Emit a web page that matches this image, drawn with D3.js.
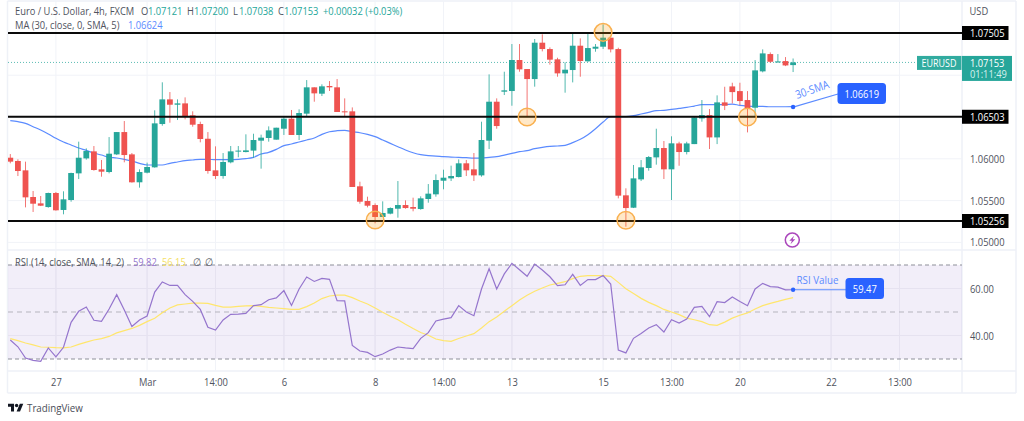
<!DOCTYPE html>
<html><head><meta charset="utf-8">
<script src="https://cdnjs.cloudflare.com/ajax/libs/d3/7.8.5/d3.min.js"></script>
<style>
html,body{margin:0;padding:0;background:#fff}
svg{display:block}
text{font-family:"Open Sans","Noto Sans",sans-serif}
</style></head><body>
<svg id="c" width="1024" height="421"></svg>
<script>
const opens=[1.06013,1.05974,1.05862,1.05543,1.05467,1.05423,1.05591,1.05388,1.05507,1.05826,
1.06005,1.06089,1.05874,1.05842,1.06053,1.0632,1.06053,1.05719,1.05834,1.05898,
1.06416,1.06711,1.06647,1.06663,1.0652,1.06416,1.0624,1.05862,1.05794,1.05958,
1.06086,1.06081,1.06098,1.06217,1.06249,1.06229,1.0636,1.0648,1.06285,1.0654,
1.06855,1.06779,1.06871,1.06855,1.06568,1.06568,1.05671,1.05495,1.05447,1.05304,
1.05344,1.05403,1.05447,1.05423,1.05399,1.05519,1.05575,1.05738,1.05766,1.05782,
1.05946,1.05874,1.05802,1.06217,1.06683,1.06803,1.06811,1.07182,1.07074,1.06954,
1.07389,1.07313,1.0719,1.07022,1.07062,1.07353,1.07166,1.07317,1.07341,1.07449,
1.07313,1.05563,1.05415,1.05754,1.0589,1.06017,1.06129,1.05874,1.06184,1.06081,
1.06176,1.06483,1.06523,1.06256,1.06675,1.06866,1.0681,1.06703,1.06611,1.07046,
1.07253,1.07157,1.07169,1.07121];
const closes=[1.05966,1.05854,1.05539,1.05463,1.05439,1.05591,1.05384,1.05515,1.0583,1.06013,
1.06093,1.05866,1.05846,1.06061,1.0632,1.06045,1.05719,1.05842,1.05902,1.06424,
1.06711,1.06647,1.06663,1.06512,1.06408,1.06237,1.05854,1.05794,1.05962,1.06089,
1.06098,1.06101,1.06225,1.06253,1.0634,1.06372,1.0648,1.06285,1.06548,1.06855,
1.06783,1.06867,1.06855,1.0656,1.0656,1.05663,1.05487,1.05439,1.05304,1.05352,
1.05411,1.05447,1.05411,1.05403,1.05527,1.05583,1.05746,1.05774,1.05794,1.05946,
1.05862,1.05802,1.06225,1.06683,1.06392,1.06819,1.07182,1.0707,1.06954,1.07389,
1.07313,1.07186,1.07022,1.07066,1.07353,1.0717,1.07325,1.07341,1.07449,1.07309,
1.05559,1.05411,1.05766,1.05898,1.06021,1.06129,1.05874,1.06185,1.06081,1.06184,
1.06495,1.06523,1.06256,1.06675,1.06635,1.06798,1.06691,1.06607,1.07058,1.07261,
1.07161,1.07165,1.07117,1.07153];
const highs=[1.06057,1.05994,1.05966,1.05615,1.05555,1.05595,1.05603,1.05611,1.05834,1.06205,
1.06125,1.06153,1.05986,1.0626,1.0632,1.06452,1.06069,1.05874,1.05954,1.0658,
1.06915,1.06799,1.06711,1.06735,1.06568,1.06444,1.0632,1.06149,1.06069,1.06153,
1.06153,1.06293,1.063,1.06289,1.06388,1.06372,1.06504,1.06584,1.06592,1.06942,
1.06855,1.06891,1.0693,1.06954,1.06723,1.06615,1.05726,1.05547,1.05467,1.05491,
1.05419,1.05734,1.05503,1.05535,1.05551,1.05698,1.05814,1.0587,1.05918,1.05993,
1.05986,1.06069,1.06444,1.0701,1.06723,1.07042,1.07373,1.07373,1.07074,1.07433,
1.07489,1.07333,1.07209,1.07154,1.07493,1.07441,1.07501,1.07373,1.07608,1.07453,
1.07329,1.05647,1.05926,1.05985,1.06033,1.0636,1.06213,1.06269,1.06204,1.06204,
1.06503,1.06703,1.06595,1.06759,1.06862,1.0691,1.0691,1.0681,1.07181,1.07309,
1.07273,1.07253,1.07217,1.072];
const lows=[1.05946,1.05794,1.05419,1.05364,1.05435,1.05415,1.0538,1.05336,1.05487,1.05758,
1.0599,1.05858,1.05786,1.05826,1.06045,1.05958,1.05715,1.05655,1.05826,1.05894,
1.06396,1.06432,1.06464,1.06472,1.06384,1.06197,1.05822,1.05758,1.05762,1.05946,
1.06018,1.06077,1.06013,1.05882,1.06205,1.06229,1.06285,1.06285,1.06225,1.06504,
1.06683,1.06751,1.06811,1.0656,1.06504,1.05663,1.05463,1.05419,1.05228,1.05304,
1.05336,1.05296,1.05403,1.05372,1.05391,1.05475,1.05547,1.05635,1.05734,1.05778,
1.05794,1.05734,1.05786,1.06117,1.0636,1.06763,1.06635,1.07042,1.06504,1.06863,
1.07285,1.07126,1.06982,1.06791,1.06914,1.06982,1.07162,1.07281,1.07313,1.07273,
1.05527,1.05188,1.05411,1.05734,1.05858,1.0593,1.05758,1.05507,1.05917,1.06053,
1.06176,1.06444,1.06117,1.06176,1.06583,1.06663,1.06643,1.06316,1.06495,1.07034,
1.07149,1.07153,1.07109,1.07038];
const maValues=[1.06456,1.06444,1.06424,1.06384,1.06344,1.06297,1.06245,1.06201,1.06165,1.06129,
1.06101,1.06069,1.06045,1.06018,1.0601,1.05994,1.05974,1.05946,1.05926,1.05926,
1.05926,1.05946,1.05962,1.05978,1.05986,1.05994,1.05994,1.0599,1.0599,1.0599,
1.05994,1.06002,1.06018,1.06057,1.06077,1.06113,1.06157,1.06177,1.06201,1.06225,
1.06249,1.06292,1.06324,1.06336,1.0634,1.06324,1.06312,1.06292,1.06265,1.06225,
1.06185,1.06145,1.06105,1.06073,1.06049,1.06037,1.06033,1.06025,1.06021,1.06017,
1.06013,1.06009,1.06009,1.06017,1.06025,1.06045,1.06065,1.06085,1.06097,1.06121,
1.06137,1.06149,1.06153,1.06161,1.06193,1.06233,1.06288,1.0636,1.0644,1.06504,
1.06504,1.06504,1.06516,1.06536,1.06556,1.06576,1.0658,1.06591,1.06603,1.06615,
1.06631,1.06647,1.06647,1.06647,1.06647,1.06655,1.06639,1.06631,1.06627,1.06627,
1.06623,1.06623,1.06623,1.06624];
const rsiValues=[38.1,35.2,30.4,29.4,29,34.7,30.9,35,45.6,50.3,52.1,46.5,46,51.3,57.4,50.9,43.8,46.6,48.3,58.5,
62.8,61.3,61.3,57.4,54.5,51.1,43.5,42.3,46.6,49,49.1,49.4,52.7,53.1,55.2,56,59.1,52.8,59.8,64.9,
63,64.3,63.9,54.8,54.7,35.8,33.4,32.8,31,32.1,33.8,35.1,34.7,34.4,38.8,41.2,46.2,47,47.6,52.7,
50,48.4,59.8,68.4,59.8,66.2,70.7,68,65.2,70.4,67.9,65,61.2,61.6,66,61.3,63.8,63.8,65.5,61.9,
33.8,32.6,38.8,40.9,43.2,44.6,41.5,46.7,45.3,47,52,52.4,48,54.4,54,56.4,54.5,52.7,59.8,62.2,
60.8,60.6,59.4,59.47];
const rsiSma=[38.7,37.8,36.8,36,35.1,35,34.8,34.7,35.1,36.2,37.2,38.1,38.7,39.6,41.1,42.1,43,44.3,45.9,47.3,
49.7,51.7,53,53.4,53.8,53.8,53.7,52.8,52.1,52.1,52.4,52.6,52.7,52.4,52,51.7,51.4,51.1,51.1,52.3,
53.8,55.7,56.8,57.2,57.2,56.1,54.7,53.4,51.7,49.9,48.2,46.7,44.8,43,41.3,40.1,38.5,37.8,37.5,38.7,
39.8,40.8,43.2,45.9,47.9,50.3,52.7,55.1,57.1,58.8,60.2,61.5,62.2,62.9,64.2,65.2,65.5,65.5,65.5,65.2,
62.6,59.9,57.9,55.8,54.1,52.7,51.1,50,48.9,47.4,46.7,45.9,44.6,44.3,45.7,47.4,48.6,49.6,51.3,52.7,
53.7,54.5,55.4,56.15];
const levels=[1.07505,1.06503,1.05256];
const priceTicks=[1.07,1.065,1.06,1.055,1.05];
const priceLabels=[1.06,1.055,1.05];
const timeIdx=[6,18,27,36,48,57,66,78,87,96,108,117];
const timeLabels=["27","Mar","14:00","6","8","14:00","13","15","13:00","20","22","13:00"];
const rsiGuide=[70,50,30];
const rsiGrid=[60,40];
const circleIdx=[48,68,78,81,97];
const circlePrice=[1.05268,1.065,1.07513,1.05265,1.065];

const W=1024,H=421,L=8,R=962,AX=1016,TOP=1,MB=250,RB=371,TB=393;
const UP="#26a69a",DN="#ef5350",BLUE="#2962ff",NARROW=0.85;
const svg=d3.select("#c");
const x=d3.scaleLinear().domain([0,103]).range([10.3,793.1]);
const y=d3.scaleLinear().domain([1.05256,1.07505]).range([221,33]);
const yr=d3.scaleLinear().domain([30,70]).range([359,265]);
const idx=d3.range(opens.length);
const fmt=d3.format(".5f");

svg.append("defs").append("clipPath").attr("id","mp").append("rect").attr("x",L).attr("y",TOP).attr("width",R-L).attr("height",MB-TOP);

// frame + separators
const frame=[[7.5,TOP,7.5,TB],[R,TOP,R,TB],[AX,TOP,AX,TB],[7.5,MB,AX,MB],[7.5,RB,AX,RB],[7.5,TB,AX,TB],[7.5,TOP,AX,TOP]];
svg.append("g").selectAll("line").data(frame).join("line")
 .attr("x1",d=>d[0]).attr("y1",d=>d[1]).attr("x2",d=>d[2]).attr("y2",d=>d[3])
 .attr("stroke","#eef1f7").attr("stroke-width",1.5);

// grid
const grid=svg.append("g").attr("stroke","#f1f3f8").attr("stroke-width",1);
grid.selectAll(".v").data(timeIdx).join("line").attr("class","v")
 .attr("x1",d=>x(d)).attr("x2",d=>x(d)).attr("y1",TOP).attr("y2",RB);
grid.selectAll(".h").data(priceTicks).join("line").attr("class","h")
 .attr("x1",L).attr("x2",R).attr("y1",d=>y(d)).attr("y2",d=>y(d));

// RSI band
svg.append("rect").attr("x",L).attr("width",R-L).attr("y",yr(70)).attr("height",yr(30)-yr(70)).attr("fill","#7e57c2").attr("fill-opacity",0.1);
svg.append("g").selectAll("line").data(rsiGrid).join("line")
 .attr("x1",L).attr("x2",R).attr("y1",d=>yr(d)).attr("y2",d=>yr(d)).attr("stroke","#e6e2f0");
svg.append("g").selectAll("line").data(timeIdx).join("line")
 .attr("x1",d=>x(d)).attr("x2",d=>x(d)).attr("y1",yr(70)).attr("y2",yr(30)).attr("stroke","#e6e2f0");
svg.append("g").selectAll("line").data(rsiGuide).join("line")
 .attr("x1",L).attr("x2",R).attr("y1",d=>yr(d)).attr("y2",d=>yr(d))
 .attr("stroke",d=>d===50?"#b5b4bd":"#8d8f99").attr("stroke-width",d=>d===50?1:1.2).attr("stroke-dasharray",d=>d===50?"5 4":"4 3");

// last price dotted
svg.append("line").attr("x1",L).attr("x2",917).attr("y1",y(closes[103])).attr("y2",y(closes[103]))
 .attr("stroke",UP).attr("stroke-width",1).attr("stroke-opacity",.75).attr("stroke-dasharray","1 2");

const main=svg.append("g").attr("clip-path","url(#mp)");
// MA
const maLine=d3.line().x((d,i)=>x(i)).y(d=>y(d)).curve(d3.curveMonotoneX);
main.append("path").attr("d",maLine(maValues)).attr("fill","none").attr("stroke","#5b8bff").attr("stroke-width",1.2);

// candles
const col=i=>closes[i]>=opens[i]?UP:DN;
main.append("g").selectAll("line").data(idx).join("line")
 .attr("x1",i=>x(i)).attr("x2",i=>x(i)).attr("y1",i=>y(highs[i])).attr("y2",i=>y(lows[i]))
 .attr("stroke",col).attr("stroke-width",1).attr("stroke-opacity",.8);
main.append("g").selectAll("rect").data(idx).join("rect")
 .attr("x",i=>x(i)-2.9).attr("width",5.8)
 .attr("y",i=>y(Math.max(opens[i],closes[i])))
 .attr("height",i=>Math.max(1,Math.abs(y(opens[i])-y(closes[i]))))
 .attr("fill",col);

// levels
main.append("g").selectAll("line").data(levels).join("line")
 .attr("x1",L).attr("x2",R).attr("y1",d=>y(d)).attr("y2",d=>y(d)).attr("stroke","#0a0a0a").attr("stroke-width",2);

// circles
svg.append("g").selectAll("circle").data(circleIdx).join("circle")
 .attr("cx",d=>x(d)).attr("cy",(d,i)=>y(circlePrice[i])).attr("r",8.8)
 .attr("fill","#ff9800").attr("fill-opacity",0.22).attr("stroke","#f9b04f").attr("stroke-width",1.5);

// SMA annotation
const maEnd=[x(103),y(1.06619)];
svg.append("line").attr("x1",maEnd[0]).attr("y1",maEnd[1]).attr("x2",838).attr("y2",94).attr("stroke","#5b8bff").attr("stroke-width",1.2);
svg.append("circle").attr("cx",maEnd[0]).attr("cy",maEnd[1]).attr("r",2.2).attr("fill",BLUE);
svg.append("text").attr("transform","translate(797,99) rotate(-19)").attr("fill","#5b8bff").attr("font-size",11.5).text("30-SMA");
svg.append("rect").attr("x",837.5).attr("y",83).attr("width",48.5).attr("height",21).attr("rx",3.5).attr("fill",BLUE);
svg.append("text").attr("x",861.8).attr("y",97.6).attr("text-anchor","middle").attr("fill","#fff").attr("font-size",11).text("1.06619");

// RSI lines
const rl=d3.line().x((d,i)=>x(i)).y(d=>yr(d));
svg.append("path").attr("d",rl(rsiSma)).attr("fill","none").attr("stroke","#ffe66d").attr("stroke-width",1.2);
svg.append("path").attr("d",rl(rsiValues)).attr("fill","none").attr("stroke","#9575cd").attr("stroke-width",1.2);
svg.append("line").attr("x1",x(103)).attr("x2",846).attr("y1",yr(59.47)).attr("y2",yr(59.47)).attr("stroke","#5b8bff").attr("stroke-width",1.2);
svg.append("circle").attr("cx",x(103)).attr("cy",yr(59.47)).attr("r",2.2).attr("fill",BLUE);
svg.append("text").attr("x",796.5).attr("y",284).attr("fill","#5b8bff").attr("font-size",11.5).text("RSI Value");
svg.append("rect").attr("x",845.5).attr("y",278).attr("width",38.5).attr("height",21).attr("rx",3.5).attr("fill",BLUE);
svg.append("text").attr("x",864.8).attr("y",292.6).attr("text-anchor","middle").attr("fill","#fff").attr("font-size",11).text("59.47");

// price axis
const pa=d3.axisRight(y).tickValues(priceLabels).tickFormat(fmt).tickSize(0).tickPadding(8);
const pg=svg.append("g").attr("transform",`translate(${R},0)`).call(pa);
pg.select(".domain").remove();
pg.selectAll("text").attr("fill","#50535e").attr("font-size",11).style("font-family",'"Open Sans",sans-serif');
const ra=d3.axisRight(yr).tickValues(rsiGrid).tickFormat(d3.format(".2f")).tickSize(0).tickPadding(8);
const rg=svg.append("g").attr("transform",`translate(${R},0)`).call(ra);
rg.select(".domain").remove();
rg.selectAll("text").attr("fill","#50535e").attr("font-size",11).style("font-family",'"Open Sans",sans-serif');
svg.append("text").attr("x",969.5).attr("y",15).attr("fill","#50535e").attr("font-size",11).text("USD");

// level labels
const lg=svg.append("g").selectAll("g").data(levels).join("g").attr("transform",d=>`translate(${R},${y(d)})`);
lg.append("rect").attr("x",0).attr("y",-7).attr("width",46.5).attr("height",14).attr("fill","#000");
lg.append("text").attr("x",8).attr("y",4).attr("fill","#fff").attr("font-size",11).text(d=>fmt(d));

// last price tag
svg.append("rect").attr("x",917).attr("y",y(closes[103])-6.5).attr("width",44.5).attr("height",14).attr("fill",UP).attr("fill-opacity",.95);
svg.append("text").attr("x",939).attr("y",y(closes[103])+4.5).attr("text-anchor","middle").attr("fill","#fff").attr("font-size",10.5).text("EURUSD");
svg.append("rect").attr("x",R).attr("y",y(closes[103])-6.5).attr("width",50).attr("height",25).attr("fill",UP);

// time axis
const ta=d3.axisBottom(x).tickValues(timeIdx).tickFormat((d,i)=>timeLabels[i]).tickSize(0).tickPadding(7);
const tg=svg.append("g").attr("transform",`translate(0,${RB})`).call(ta);
tg.select(".domain").remove();
tg.selectAll("text").attr("fill","#50535e").attr("font-size",11).style("font-family",'"Open Sans",sans-serif');

// narrow labels drawn so far to the reference's text width
svg.selectAll("text").each(function(){
  const w=this.getComputedTextLength();
  this.setAttribute("textLength",(w*NARROW).toFixed(1));
  this.setAttribute("lengthAdjust","spacingAndGlyphs");
});

// last price + countdown: one text in two lines
const lp=svg.append("text").attr("transform",`scale(${NARROW},1)`).attr("y",y(closes[103])+4.5).attr("font-size",11);
lp.append("tspan").attr("x",(R+8)/NARROW).attr("fill","#fff").text(fmt(closes[103]));
lp.append("tspan").attr("x",(R+8)/NARROW).attr("dy",11.5).attr("fill","#d6f1ee").text("01:11:49");

// legend rows: one text each, coloured runs as tspans
function row(yy,items){
  const t=svg.append("text").attr("transform",`scale(${NARROW},1)`).attr("y",yy).attr("font-size",11);
  items.forEach(([s,xx,c])=>t.append("tspan").attr("x",xx/NARROW).attr("fill",c).text(s));
}
const G="#50535e";
row(15.5,[["Euro / U.S. Dollar, 4h, FXCM",15,G],["O",141,G],["1.07121",148,UP],["H",187,G],["1.07200",194,UP],["L",233,G],["1.07038",239,UP],["C",278,G],["1.07153",284,UP],["+0.00032 (+0.03%)",323,UP]]);
row(29.5,[["MA (30, close, 0, SMA, 5)",15,G],["1.06624",128,"#5b8bff"]]);
row(266,[["RSI (14, close, SMA, 14, 2)",15,G],["59.82",133,"#9575cd"],["56.15",162,"#f5e063"],["∅",193,G],["∅",205,G]]);

// lightning icon
const ic=svg.append("g").attr("transform",`translate(${x(103)-0.8},${y(1.05028)})`);
ic.append("circle").attr("r",7).attr("fill","#fff").attr("stroke","#ab47bc").attr("stroke-width",1.5);
ic.append("path").attr("d","M1.8-4.2-3 .8H-.4L-1.8 4.2 3-.8H.4Z").attr("fill","#ab47bc");

// logo
const lgo=svg.append("g").attr("transform","translate(8,402) scale(.43)").attr("fill","#131722");
lgo.append("path").attr("d","M14 22H7V11H0V4h14v18zM28 22h-8l7.5-18h8L28 22z");
lgo.append("circle").attr("cx",20).attr("cy",8).attr("r",4);
const tvt=svg.append("text").attr("x",27).attr("y",411.5).attr("fill","#4a4d57").attr("font-size",11.5).text("TradingView");
tvt.attr("textLength",(tvt.node().getComputedTextLength()*NARROW).toFixed(1)).attr("lengthAdjust","spacingAndGlyphs");
</script>
</body></html>
